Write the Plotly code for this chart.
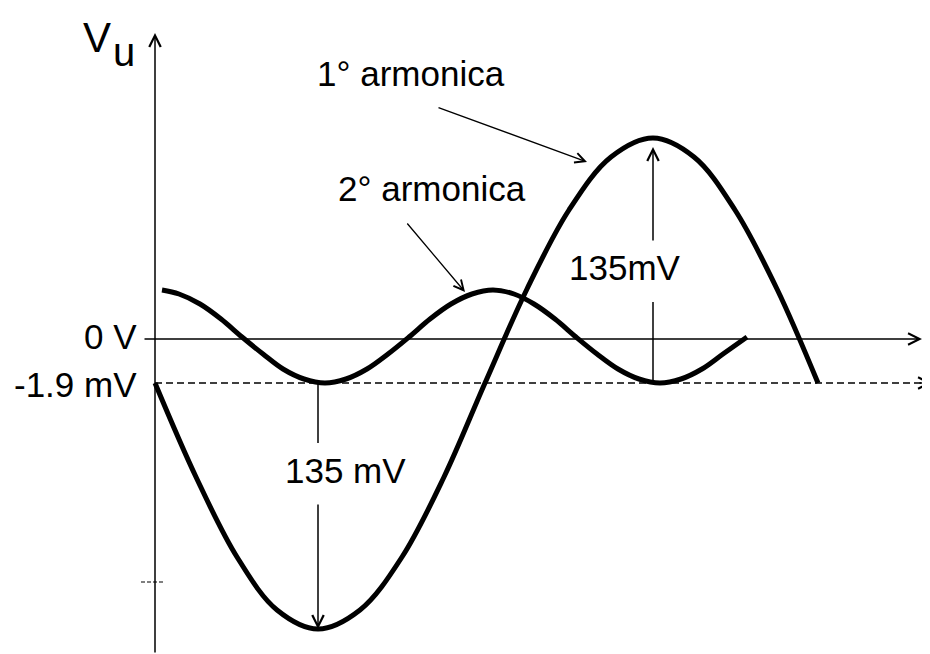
import plotly.graph_objects as go

# Schematic units: t = pixels to the right of the Vu axis, v = pixels above the 0 V line
# 1st harmonic
t1 = [0, 41, 82, 122, 163, 205, 247, 289, 330, 372, 414, 456, 498, 539, 580, 622, 663]
v1 = [-44, -138, -218, -271, -290, -271, -218, -138, -44, 50, 129, 182, 201, 182, 129, 50, -44]
# 2nd harmonic
t2 = [7, 24, 45, 66, 87, 108, 128, 149, 170, 191, 212, 233, 254, 275, 296, 317, 338,
      359, 379, 400, 421, 442, 463, 484, 505, 526, 547, 568, 592]
v2 = [49, 45, 35, 20, 2, -15, -30, -40, -44, -40, -30, -15, 2, 20, 35, 45, 49,
      45, 35, 20, 2, -15, -30, -40, -44, -40, -30, -15, 2]

level_labels = ["0 V", "-1.9 mV"]
level_values = [0, -44]
amp_labels = ["135 mV", "135mV"]
curve_labels = ["1° armonica", "2° armonica"]
axis_label = ["V", "u"]

W, H = 930, 654
X0, Y0 = 155, 339  # screen pixel position of the origin
OFF = 8            # page body margin of the html page


def px(x):
    return x - X0


def py(y):
    return Y0 - y


FAMILY = "Liberation Sans, Arial, sans-serif"
FONT = dict(family=FAMILY, size=35, color="black")

fig = go.Figure()
fig.add_trace(go.Scatter(x=t1, y=v1, mode="lines", line=dict(color="black", width=5, shape="spline"),
                         hoverinfo="skip", showlegend=False))
fig.add_trace(go.Scatter(x=t2, y=v2, mode="lines", line=dict(color="black", width=5, shape="spline"),
                         hoverinfo="skip", showlegend=False))

shapes = []
annotations = []

arrow_common = dict(xref="x", yref="y", axref="x", ayref="y", text="", showarrow=True,
                    arrowhead=5, arrowsize=1.5, arrowwidth=1.5, arrowcolor="black", standoff=0,
                    startstandoff=0)

# horizontal axis (0 V)
annotations.append(dict(x=px(922), y=level_values[0], ax=px(143), ay=level_values[0], **arrow_common))
# vertical axis
annotations.append(dict(x=0, y=py(33), ax=0, ay=py(654), **arrow_common))
# dashed -1.9 mV line
shapes.append(dict(type="line", xref="x", yref="y", x0=0, x1=px(928), y0=level_values[1], y1=level_values[1],
                   line=dict(color="black", width=1.5, dash="7px,4px")))
annotations.append(dict(x=px(932), y=level_values[1], ax=px(918), ay=level_values[1], **arrow_common))
# small dashed tick on the vertical axis
shapes.append(dict(type="line", xref="x", yref="y", x0=px(141), x1=px(164), y0=py(582), y1=py(582),
                   line=dict(color="black", width=1.2, dash="4px,2px")))

# level labels
annotations.append(dict(x=px(139), y=level_values[0] + 3, xref="x", yref="y", text=level_labels[0],
                        showarrow=False, xanchor="right", yanchor="middle", font=FONT))
annotations.append(dict(x=px(139), y=level_values[1] - 1, xref="x", yref="y", text=level_labels[1],
                        showarrow=False, xanchor="right", yanchor="middle", font=FONT))

# Vu label (V with a large subscript u)
annotations.append(dict(x=px(112), y=py(37), xref="x", yref="y", text=axis_label[0], showarrow=False,
                        xanchor="right", yanchor="middle", borderpad=0,
                        font=dict(family=FAMILY, size=42, color="black")))
annotations.append(dict(x=px(112), y=py(52), xref="x", yref="y", text=axis_label[1], showarrow=False,
                        xanchor="left", yanchor="middle", borderpad=0,
                        font=dict(family=FAMILY, size=40, color="black")))

# amplitude arrows
imin = v1.index(min(v1))
imax = v1.index(max(v1))
xmin_, xmax_ = t1[imin], t1[imax]
# lower 135 mV
shapes.append(dict(type="line", xref="x", yref="y", x0=xmin_, x1=xmin_, y0=level_values[1], y1=py(443),
                   line=dict(color="black", width=1.5)))
annotations.append(dict(x=xmin_, y=v1[imin], ax=xmin_, ay=py(503), **arrow_common))
annotations.append(dict(x=px(345), y=py(470), xref="x", yref="y", text=amp_labels[0], showarrow=False,
                        xanchor="center", yanchor="middle", font=FONT))
# upper 135mV
shapes.append(dict(type="line", xref="x", yref="y", x0=xmax_, x1=xmax_, y0=level_values[1], y1=py(302),
                   line=dict(color="black", width=1.5)))
annotations.append(dict(x=xmax_, y=py(147), ax=xmax_, ay=py(242), **arrow_common))
annotations.append(dict(x=px(625), y=py(267), xref="x", yref="y", text=amp_labels[1], showarrow=False,
                        xanchor="center", yanchor="middle", font=FONT))

# curve labels with pointers
annotations.append(dict(x=px(411), y=py(73), xref="x", yref="y", text=curve_labels[0], showarrow=False,
                        xanchor="center", yanchor="middle", font=FONT))
annotations.append(dict(x=px(587), y=py(162), ax=px(437), ay=py(107),
                        **{**arrow_common, "arrowwidth": 1.3}))
annotations.append(dict(x=px(432), y=py(188), xref="x", yref="y", text=curve_labels[1], showarrow=False,
                        xanchor="center", yanchor="middle", font=FONT))
annotations.append(dict(x=px(465), y=py(292), ax=px(406), ay=py(222),
                        **{**arrow_common, "arrowwidth": 1.3}))

fig.update_layout(
    width=W, height=H,
    margin=dict(l=0, r=0, t=0, b=0),
    paper_bgcolor="white", plot_bgcolor="white",
    # the page is drawn OFF pixels from the window's corner, so the ranges start there
    xaxis=dict(range=[px(OFF), px(W + OFF)], visible=False, fixedrange=True),
    yaxis=dict(range=[py(H + OFF), py(OFF)], visible=False, fixedrange=True),
    shapes=shapes, annotations=annotations,
    showlegend=False,
)

fig.write_html("out.html")
